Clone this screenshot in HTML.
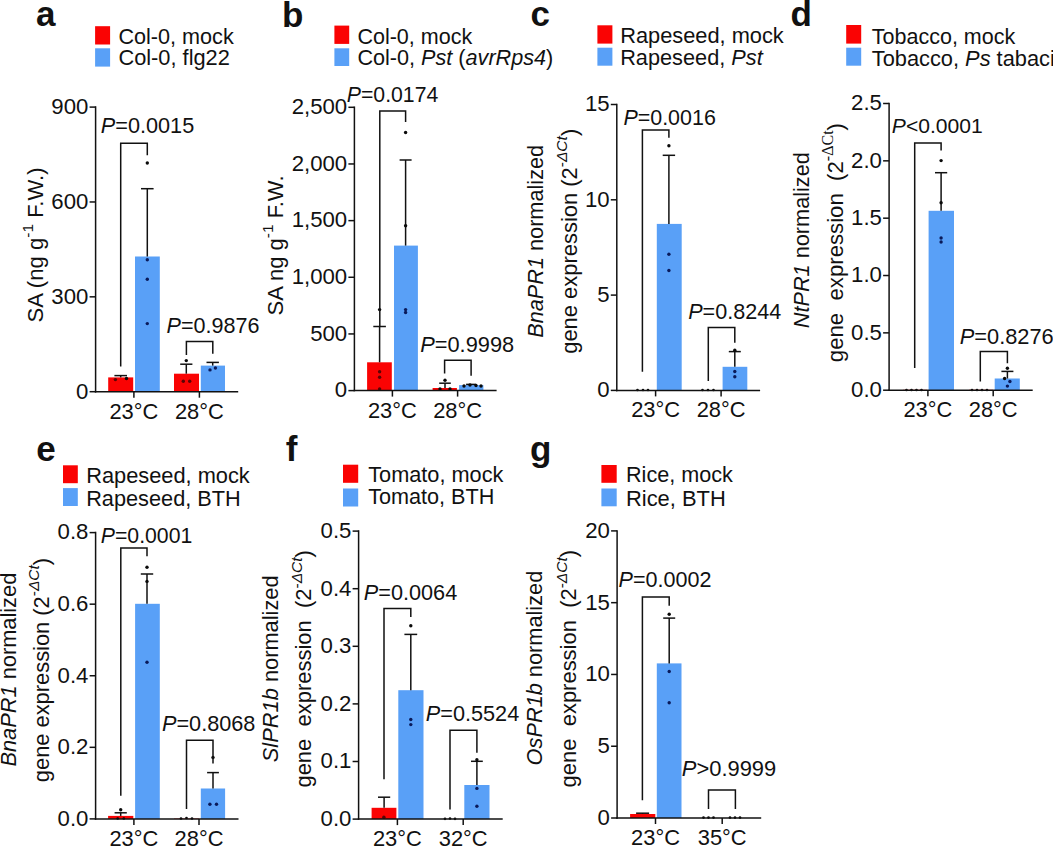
<!DOCTYPE html>
<html><head><meta charset="utf-8"><style>
html,body{margin:0;padding:0;background:#fff;}
body{width:1053px;height:848px;overflow:hidden;}
svg{display:block;font-family:"Liberation Sans",sans-serif;fill:#111;}
text{white-space:pre;}
</style></head><body>
<svg width="1053" height="848" viewBox="0 0 1053 848">
<rect width="1053" height="848" fill="#fff"/>
<rect x="95.10" y="26.20" width="15.00" height="18.30" fill="#fa0303"/>
<rect x="95.10" y="48.30" width="15.00" height="18.30" fill="#59a0f7"/>
<rect x="108.20" y="377.40" width="25.00" height="14.30" fill="#fa0303"/>
<rect x="135.00" y="256.50" width="24.80" height="135.20" fill="#59a0f7"/>
<rect x="174.00" y="373.70" width="25.00" height="18.00" fill="#fa0303"/>
<rect x="200.80" y="365.60" width="24.20" height="26.10" fill="#59a0f7"/>
<line x1="147.30" y1="256.50" x2="147.30" y2="188.70" stroke="#111" stroke-width="1.5"/>
<line x1="141.00" y1="188.70" x2="153.60" y2="188.70" stroke="#111" stroke-width="1.5"/>
<line x1="120.70" y1="377.40" x2="120.70" y2="375.60" stroke="#111" stroke-width="1.5"/>
<line x1="114.40" y1="375.60" x2="127.00" y2="375.60" stroke="#111" stroke-width="1.5"/>
<line x1="186.30" y1="373.70" x2="186.30" y2="364.20" stroke="#111" stroke-width="1.5"/>
<line x1="180.20" y1="364.20" x2="192.40" y2="364.20" stroke="#111" stroke-width="1.5"/>
<line x1="212.70" y1="365.60" x2="212.70" y2="362.40" stroke="#111" stroke-width="1.5"/>
<line x1="206.50" y1="362.40" x2="218.90" y2="362.40" stroke="#111" stroke-width="1.5"/>
<circle cx="147.30" cy="163.00" r="1.7" fill="#0a0a0a"/>
<circle cx="147.30" cy="259.70" r="1.7" fill="#0a1a5a"/>
<circle cx="147.30" cy="279.20" r="1.7" fill="#0a1a5a"/>
<circle cx="147.30" cy="323.60" r="1.7" fill="#0a1a5a"/>
<circle cx="115.40" cy="379.60" r="1.7" fill="#5a0505"/>
<circle cx="126.50" cy="378.50" r="1.7" fill="#0a0a0a"/>
<circle cx="186.30" cy="360.60" r="1.7" fill="#0a0a0a"/>
<circle cx="183.30" cy="381.30" r="1.7" fill="#5a0505"/>
<circle cx="189.70" cy="381.30" r="1.7" fill="#5a0505"/>
<circle cx="210.00" cy="369.90" r="1.7" fill="#0a1a5a"/>
<circle cx="215.40" cy="368.00" r="1.7" fill="#0a1a5a"/>
<line x1="95.60" y1="106.35" x2="95.60" y2="392.45" stroke="#111" stroke-width="1.5"/>
<line x1="94.85" y1="391.70" x2="238.20" y2="391.70" stroke="#111" stroke-width="1.5"/>
<line x1="89.60" y1="107.10" x2="95.60" y2="107.10" stroke="#111" stroke-width="1.5"/>
<text x="88.40" y="113.95" font-size="22.20" text-anchor="end">900</text>
<line x1="89.60" y1="201.97" x2="95.60" y2="201.97" stroke="#111" stroke-width="1.5"/>
<text x="88.40" y="208.82" font-size="22.20" text-anchor="end">600</text>
<line x1="89.60" y1="296.83" x2="95.60" y2="296.83" stroke="#111" stroke-width="1.5"/>
<text x="88.40" y="303.68" font-size="22.20" text-anchor="end">300</text>
<line x1="89.60" y1="391.70" x2="95.60" y2="391.70" stroke="#111" stroke-width="1.5"/>
<text x="88.40" y="398.55" font-size="22.20" text-anchor="end">0</text>
<line x1="133.90" y1="391.70" x2="133.90" y2="397.70" stroke="#111" stroke-width="1.5"/>
<text x="133.90" y="418.70" font-size="21.90" text-anchor="middle">23°C</text>
<line x1="199.40" y1="391.70" x2="199.40" y2="397.70" stroke="#111" stroke-width="1.5"/>
<text x="199.40" y="418.70" font-size="21.90" text-anchor="middle">28°C</text>
<polyline points="120.70,366.60 120.70,143.20 147.30,143.20 147.30,155.20" fill="none" stroke="#111" stroke-width="1.5"/>
<polyline points="186.40,354.90 186.40,341.40 212.80,341.40 212.80,353.80" fill="none" stroke="#111" stroke-width="1.5"/>
<rect x="334.40" y="25.60" width="14.80" height="18.30" fill="#fa0303"/>
<rect x="334.40" y="48.30" width="14.80" height="17.70" fill="#59a0f7"/>
<rect x="367.10" y="362.30" width="24.70" height="28.30" fill="#fa0303"/>
<rect x="394.00" y="245.60" width="23.90" height="145.00" fill="#59a0f7"/>
<rect x="432.60" y="388.00" width="24.30" height="2.60" fill="#fa0303"/>
<rect x="459.10" y="385.10" width="24.30" height="5.50" fill="#59a0f7"/>
<line x1="379.60" y1="362.30" x2="379.60" y2="326.50" stroke="#111" stroke-width="1.5"/>
<line x1="373.30" y1="326.50" x2="385.90" y2="326.50" stroke="#111" stroke-width="1.5"/>
<line x1="405.60" y1="245.60" x2="405.60" y2="160.00" stroke="#111" stroke-width="1.5"/>
<line x1="399.60" y1="160.00" x2="411.60" y2="160.00" stroke="#111" stroke-width="1.5"/>
<line x1="445.00" y1="388.00" x2="445.00" y2="383.20" stroke="#111" stroke-width="1.5"/>
<line x1="439.20" y1="383.20" x2="450.80" y2="383.20" stroke="#111" stroke-width="1.5"/>
<line x1="471.10" y1="385.10" x2="471.10" y2="384.40" stroke="#111" stroke-width="1.5"/>
<line x1="466.10" y1="384.40" x2="476.10" y2="384.40" stroke="#111" stroke-width="1.5"/>
<circle cx="379.60" cy="309.60" r="1.7" fill="#0a0a0a"/>
<circle cx="379.60" cy="371.80" r="1.7" fill="#5a0505"/>
<circle cx="379.60" cy="377.30" r="1.7" fill="#5a0505"/>
<circle cx="379.60" cy="389.00" r="1.7" fill="#5a0505"/>
<circle cx="405.60" cy="132.50" r="1.7" fill="#0a0a0a"/>
<circle cx="405.60" cy="225.80" r="1.7" fill="#0a0a0a"/>
<circle cx="405.60" cy="309.60" r="1.7" fill="#0a1a5a"/>
<circle cx="405.60" cy="312.50" r="1.7" fill="#0a1a5a"/>
<circle cx="445.00" cy="380.20" r="1.7" fill="#0a0a0a"/>
<circle cx="440.00" cy="389.00" r="1.7" fill="#0a0a0a"/>
<circle cx="450.00" cy="389.00" r="1.7" fill="#0a0a0a"/>
<circle cx="464.00" cy="386.00" r="1.7" fill="#0a0a0a"/>
<circle cx="470.00" cy="385.00" r="1.7" fill="#0a0a0a"/>
<circle cx="476.00" cy="385.50" r="1.7" fill="#0a0a0a"/>
<circle cx="481.00" cy="386.00" r="1.7" fill="#0a0a0a"/>
<line x1="354.40" y1="106.55" x2="354.40" y2="391.35" stroke="#111" stroke-width="1.5"/>
<line x1="353.65" y1="390.60" x2="496.60" y2="390.60" stroke="#111" stroke-width="1.5"/>
<line x1="348.40" y1="107.30" x2="354.40" y2="107.30" stroke="#111" stroke-width="1.5"/>
<text x="347.20" y="114.15" font-size="22.20" text-anchor="end">2,500</text>
<line x1="348.40" y1="163.96" x2="354.40" y2="163.96" stroke="#111" stroke-width="1.5"/>
<text x="347.20" y="170.81" font-size="22.20" text-anchor="end">2,000</text>
<line x1="348.40" y1="220.62" x2="354.40" y2="220.62" stroke="#111" stroke-width="1.5"/>
<text x="347.20" y="227.47" font-size="22.20" text-anchor="end">1,500</text>
<line x1="348.40" y1="277.28" x2="354.40" y2="277.28" stroke="#111" stroke-width="1.5"/>
<text x="347.20" y="284.13" font-size="22.20" text-anchor="end">1,000</text>
<line x1="348.40" y1="333.94" x2="354.40" y2="333.94" stroke="#111" stroke-width="1.5"/>
<text x="347.20" y="340.79" font-size="22.20" text-anchor="end">500</text>
<line x1="348.40" y1="390.60" x2="354.40" y2="390.60" stroke="#111" stroke-width="1.5"/>
<text x="347.20" y="397.45" font-size="22.20" text-anchor="end">0</text>
<line x1="392.40" y1="390.60" x2="392.40" y2="396.60" stroke="#111" stroke-width="1.5"/>
<text x="392.40" y="417.60" font-size="21.90" text-anchor="middle">23°C</text>
<line x1="457.60" y1="390.60" x2="457.60" y2="396.60" stroke="#111" stroke-width="1.5"/>
<text x="457.60" y="417.60" font-size="21.90" text-anchor="middle">28°C</text>
<polyline points="379.80,326.50 379.80,111.00 405.60,111.00 405.60,122.10" fill="none" stroke="#111" stroke-width="1.5"/>
<polyline points="444.60,373.60 444.60,360.30 471.10,360.30 471.10,375.80" fill="none" stroke="#111" stroke-width="1.5"/>
<rect x="597.40" y="25.30" width="15.00" height="18.30" fill="#fa0303"/>
<rect x="597.40" y="47.70" width="15.00" height="18.00" fill="#59a0f7"/>
<rect x="631.00" y="390.00" width="24.00" height="0.40" fill="#fa0303"/>
<rect x="656.80" y="223.90" width="24.90" height="166.50" fill="#59a0f7"/>
<rect x="697.00" y="390.00" width="24.00" height="0.40" fill="#fa0303"/>
<rect x="722.60" y="366.80" width="24.70" height="23.60" fill="#59a0f7"/>
<line x1="668.90" y1="223.90" x2="668.90" y2="155.30" stroke="#111" stroke-width="1.5"/>
<line x1="662.70" y1="155.30" x2="675.10" y2="155.30" stroke="#111" stroke-width="1.5"/>
<line x1="734.80" y1="366.80" x2="734.80" y2="351.60" stroke="#111" stroke-width="1.5"/>
<line x1="728.80" y1="351.60" x2="740.80" y2="351.60" stroke="#111" stroke-width="1.5"/>
<circle cx="668.90" cy="145.80" r="1.7" fill="#0a0a0a"/>
<circle cx="668.90" cy="254.20" r="1.7" fill="#0a1a5a"/>
<circle cx="668.90" cy="270.50" r="1.7" fill="#0a1a5a"/>
<circle cx="734.80" cy="350.20" r="1.7" fill="#0a0a0a"/>
<circle cx="734.80" cy="371.50" r="1.7" fill="#0a1a5a"/>
<circle cx="734.80" cy="376.70" r="1.7" fill="#0a1a5a"/>
<circle cx="637.50" cy="390.00" r="1.35" fill="#0a0a0a"/>
<circle cx="643.00" cy="390.00" r="1.35" fill="#0a0a0a"/>
<circle cx="648.00" cy="390.00" r="1.35" fill="#0a0a0a"/>
<circle cx="702.50" cy="390.00" r="1.35" fill="#0a0a0a"/>
<circle cx="708.00" cy="390.00" r="1.35" fill="#0a0a0a"/>
<circle cx="713.50" cy="390.00" r="1.35" fill="#0a0a0a"/>
<line x1="616.80" y1="103.75" x2="616.80" y2="391.15" stroke="#111" stroke-width="1.5"/>
<line x1="616.05" y1="390.40" x2="760.10" y2="390.40" stroke="#111" stroke-width="1.5"/>
<line x1="610.80" y1="104.50" x2="616.80" y2="104.50" stroke="#111" stroke-width="1.5"/>
<text x="609.60" y="111.35" font-size="22.20" text-anchor="end">15</text>
<line x1="610.80" y1="199.80" x2="616.80" y2="199.80" stroke="#111" stroke-width="1.5"/>
<text x="609.60" y="206.65" font-size="22.20" text-anchor="end">10</text>
<line x1="610.80" y1="295.10" x2="616.80" y2="295.10" stroke="#111" stroke-width="1.5"/>
<text x="609.60" y="301.95" font-size="22.20" text-anchor="end">5</text>
<line x1="610.80" y1="390.40" x2="616.80" y2="390.40" stroke="#111" stroke-width="1.5"/>
<text x="609.60" y="397.25" font-size="22.20" text-anchor="end">0</text>
<line x1="655.60" y1="390.40" x2="655.60" y2="396.40" stroke="#111" stroke-width="1.5"/>
<text x="655.60" y="417.40" font-size="21.90" text-anchor="middle">23°C</text>
<line x1="721.10" y1="390.40" x2="721.10" y2="396.40" stroke="#111" stroke-width="1.5"/>
<text x="721.10" y="417.40" font-size="21.90" text-anchor="middle">28°C</text>
<polyline points="642.40,371.80 642.40,130.10 668.90,130.10 668.90,137.70" fill="none" stroke="#111" stroke-width="1.5"/>
<polyline points="708.30,381.10 708.30,327.40 734.80,327.40 734.80,342.80" fill="none" stroke="#111" stroke-width="1.5"/>
<rect x="846.20" y="25.00" width="15.00" height="18.60" fill="#fa0303"/>
<rect x="846.20" y="47.70" width="15.00" height="18.00" fill="#59a0f7"/>
<rect x="903.00" y="389.80" width="24.00" height="0.40" fill="#fa0303"/>
<rect x="928.60" y="210.80" width="25.40" height="179.40" fill="#59a0f7"/>
<rect x="969.00" y="389.80" width="24.00" height="0.40" fill="#fa0303"/>
<rect x="994.70" y="378.50" width="25.10" height="11.70" fill="#59a0f7"/>
<line x1="941.10" y1="210.80" x2="941.10" y2="172.70" stroke="#111" stroke-width="1.5"/>
<line x1="935.00" y1="172.70" x2="947.20" y2="172.70" stroke="#111" stroke-width="1.5"/>
<line x1="1007.40" y1="378.50" x2="1007.40" y2="371.40" stroke="#111" stroke-width="1.5"/>
<line x1="1001.40" y1="371.40" x2="1013.40" y2="371.40" stroke="#111" stroke-width="1.5"/>
<circle cx="941.10" cy="160.60" r="1.7" fill="#0a0a0a"/>
<circle cx="941.10" cy="202.70" r="1.7" fill="#0a0a0a"/>
<circle cx="941.10" cy="238.00" r="1.7" fill="#0a1a5a"/>
<circle cx="941.10" cy="242.00" r="1.7" fill="#0a1a5a"/>
<circle cx="1007.40" cy="368.30" r="1.7" fill="#0a0a0a"/>
<circle cx="1004.60" cy="378.50" r="1.7" fill="#0a0a0a"/>
<circle cx="1009.90" cy="381.50" r="1.7" fill="#0a1a5a"/>
<circle cx="1007.40" cy="386.10" r="1.7" fill="#0a1a5a"/>
<circle cx="906.50" cy="390.00" r="1.35" fill="#0a0a0a"/>
<circle cx="911.50" cy="390.00" r="1.35" fill="#0a0a0a"/>
<circle cx="916.50" cy="390.00" r="1.35" fill="#0a0a0a"/>
<circle cx="921.50" cy="390.00" r="1.35" fill="#0a0a0a"/>
<circle cx="972.00" cy="390.00" r="1.35" fill="#0a0a0a"/>
<circle cx="977.00" cy="390.00" r="1.35" fill="#0a0a0a"/>
<circle cx="982.00" cy="390.00" r="1.35" fill="#0a0a0a"/>
<circle cx="987.00" cy="390.00" r="1.35" fill="#0a0a0a"/>
<line x1="889.10" y1="102.75" x2="889.10" y2="390.95" stroke="#111" stroke-width="1.5"/>
<line x1="888.35" y1="390.20" x2="1032.70" y2="390.20" stroke="#111" stroke-width="1.5"/>
<line x1="883.10" y1="103.50" x2="889.10" y2="103.50" stroke="#111" stroke-width="1.5"/>
<text x="881.90" y="110.35" font-size="22.20" text-anchor="end">2.5</text>
<line x1="883.10" y1="160.84" x2="889.10" y2="160.84" stroke="#111" stroke-width="1.5"/>
<text x="881.90" y="167.69" font-size="22.20" text-anchor="end">2.0</text>
<line x1="883.10" y1="218.18" x2="889.10" y2="218.18" stroke="#111" stroke-width="1.5"/>
<text x="881.90" y="225.03" font-size="22.20" text-anchor="end">1.5</text>
<line x1="883.10" y1="275.52" x2="889.10" y2="275.52" stroke="#111" stroke-width="1.5"/>
<text x="881.90" y="282.37" font-size="22.20" text-anchor="end">1.0</text>
<line x1="883.10" y1="332.86" x2="889.10" y2="332.86" stroke="#111" stroke-width="1.5"/>
<text x="881.90" y="339.71" font-size="22.20" text-anchor="end">0.5</text>
<line x1="883.10" y1="390.20" x2="889.10" y2="390.20" stroke="#111" stroke-width="1.5"/>
<text x="881.90" y="397.05" font-size="22.20" text-anchor="end">0.0</text>
<line x1="927.90" y1="390.20" x2="927.90" y2="396.20" stroke="#111" stroke-width="1.5"/>
<text x="927.90" y="417.20" font-size="21.90" text-anchor="middle">23°C</text>
<line x1="993.20" y1="390.20" x2="993.20" y2="396.20" stroke="#111" stroke-width="1.5"/>
<text x="993.20" y="417.20" font-size="21.90" text-anchor="middle">28°C</text>
<polyline points="914.70,367.90 914.70,143.10 941.10,143.10 941.10,150.60" fill="none" stroke="#111" stroke-width="1.5"/>
<polyline points="980.30,381.50 980.30,351.60 1007.40,351.60 1007.40,363.30" fill="none" stroke="#111" stroke-width="1.5"/>
<rect x="63.00" y="465.30" width="14.80" height="17.90" fill="#fa0303"/>
<rect x="63.00" y="488.10" width="14.80" height="17.90" fill="#59a0f7"/>
<rect x="108.10" y="815.90" width="25.20" height="3.00" fill="#fa0303"/>
<rect x="135.10" y="603.80" width="24.70" height="215.10" fill="#59a0f7"/>
<rect x="174.00" y="818.50" width="25.00" height="0.40" fill="#fa0303"/>
<rect x="200.80" y="788.50" width="24.30" height="30.40" fill="#59a0f7"/>
<line x1="147.00" y1="603.80" x2="147.00" y2="574.00" stroke="#111" stroke-width="1.5"/>
<line x1="140.80" y1="574.00" x2="153.20" y2="574.00" stroke="#111" stroke-width="1.5"/>
<line x1="120.70" y1="815.90" x2="120.70" y2="812.80" stroke="#111" stroke-width="1.5"/>
<line x1="114.60" y1="812.80" x2="126.80" y2="812.80" stroke="#111" stroke-width="1.5"/>
<line x1="213.00" y1="788.50" x2="213.00" y2="772.60" stroke="#111" stroke-width="1.5"/>
<line x1="207.10" y1="772.60" x2="218.90" y2="772.60" stroke="#111" stroke-width="1.5"/>
<circle cx="147.00" cy="567.30" r="1.7" fill="#0a0a0a"/>
<circle cx="147.00" cy="581.40" r="1.7" fill="#0a0a0a"/>
<circle cx="147.00" cy="662.20" r="1.7" fill="#0a1a5a"/>
<circle cx="213.00" cy="757.40" r="1.7" fill="#0a0a0a"/>
<circle cx="209.90" cy="804.20" r="1.7" fill="#0a1a5a"/>
<circle cx="216.50" cy="804.20" r="1.7" fill="#0a1a5a"/>
<circle cx="120.70" cy="809.80" r="1.7" fill="#0a0a0a"/>
<circle cx="117.70" cy="818.50" r="1.35" fill="#0a0a0a"/>
<circle cx="123.80" cy="818.50" r="1.35" fill="#0a0a0a"/>
<circle cx="181.00" cy="818.50" r="1.35" fill="#0a0a0a"/>
<circle cx="186.50" cy="818.00" r="1.35" fill="#0a0a0a"/>
<circle cx="192.00" cy="818.50" r="1.35" fill="#0a0a0a"/>
<line x1="95.60" y1="531.85" x2="95.60" y2="819.65" stroke="#111" stroke-width="1.5"/>
<line x1="94.85" y1="818.90" x2="238.50" y2="818.90" stroke="#111" stroke-width="1.5"/>
<line x1="89.60" y1="532.60" x2="95.60" y2="532.60" stroke="#111" stroke-width="1.5"/>
<text x="88.40" y="539.45" font-size="22.20" text-anchor="end">0.8</text>
<line x1="89.60" y1="604.17" x2="95.60" y2="604.17" stroke="#111" stroke-width="1.5"/>
<text x="88.40" y="611.02" font-size="22.20" text-anchor="end">0.6</text>
<line x1="89.60" y1="675.75" x2="95.60" y2="675.75" stroke="#111" stroke-width="1.5"/>
<text x="88.40" y="682.60" font-size="22.20" text-anchor="end">0.4</text>
<line x1="89.60" y1="747.33" x2="95.60" y2="747.33" stroke="#111" stroke-width="1.5"/>
<text x="88.40" y="754.18" font-size="22.20" text-anchor="end">0.2</text>
<line x1="89.60" y1="818.90" x2="95.60" y2="818.90" stroke="#111" stroke-width="1.5"/>
<text x="88.40" y="825.75" font-size="22.20" text-anchor="end">0.0</text>
<line x1="133.90" y1="818.90" x2="133.90" y2="824.90" stroke="#111" stroke-width="1.5"/>
<text x="133.90" y="845.90" font-size="21.90" text-anchor="middle">23°C</text>
<line x1="199.00" y1="818.90" x2="199.00" y2="824.90" stroke="#111" stroke-width="1.5"/>
<text x="199.00" y="845.90" font-size="21.90" text-anchor="middle">28°C</text>
<polyline points="120.80,795.70 120.80,548.10 147.00,548.10 147.00,556.30" fill="none" stroke="#111" stroke-width="1.5"/>
<polyline points="186.50,809.00 186.50,740.30 213.00,740.30 213.00,763.40" fill="none" stroke="#111" stroke-width="1.5"/>
<rect x="343.00" y="464.70" width="15.20" height="18.10" fill="#fa0303"/>
<rect x="343.00" y="488.50" width="15.20" height="18.00" fill="#59a0f7"/>
<rect x="371.60" y="807.80" width="24.80" height="11.30" fill="#fa0303"/>
<rect x="398.30" y="690.20" width="25.20" height="128.90" fill="#59a0f7"/>
<rect x="464.30" y="785.00" width="25.20" height="34.10" fill="#59a0f7"/>
<line x1="410.80" y1="690.20" x2="410.80" y2="634.40" stroke="#111" stroke-width="1.5"/>
<line x1="404.40" y1="634.40" x2="417.20" y2="634.40" stroke="#111" stroke-width="1.5"/>
<line x1="384.10" y1="807.80" x2="384.10" y2="797.20" stroke="#111" stroke-width="1.5"/>
<line x1="378.00" y1="797.20" x2="390.20" y2="797.20" stroke="#111" stroke-width="1.5"/>
<line x1="476.90" y1="785.00" x2="476.90" y2="761.30" stroke="#111" stroke-width="1.5"/>
<line x1="471.00" y1="761.30" x2="482.80" y2="761.30" stroke="#111" stroke-width="1.5"/>
<circle cx="410.80" cy="625.70" r="1.7" fill="#0a0a0a"/>
<circle cx="410.80" cy="719.50" r="1.7" fill="#0a1a5a"/>
<circle cx="410.80" cy="724.60" r="1.7" fill="#0a1a5a"/>
<circle cx="476.90" cy="759.80" r="1.7" fill="#0a0a0a"/>
<circle cx="476.90" cy="788.40" r="1.7" fill="#0a1a5a"/>
<circle cx="476.90" cy="806.30" r="1.7" fill="#0a1a5a"/>
<circle cx="383.90" cy="817.30" r="1.7" fill="#5a0505"/>
<circle cx="445.00" cy="818.80" r="1.35" fill="#0a0a0a"/>
<circle cx="450.00" cy="818.50" r="1.35" fill="#0a0a0a"/>
<circle cx="455.00" cy="818.80" r="1.35" fill="#0a0a0a"/>
<line x1="358.60" y1="530.35" x2="358.60" y2="819.85" stroke="#111" stroke-width="1.5"/>
<line x1="357.85" y1="819.10" x2="502.70" y2="819.10" stroke="#111" stroke-width="1.5"/>
<line x1="352.60" y1="531.10" x2="358.60" y2="531.10" stroke="#111" stroke-width="1.5"/>
<text x="351.40" y="537.95" font-size="22.20" text-anchor="end">0.5</text>
<line x1="352.60" y1="588.70" x2="358.60" y2="588.70" stroke="#111" stroke-width="1.5"/>
<text x="351.40" y="595.55" font-size="22.20" text-anchor="end">0.4</text>
<line x1="352.60" y1="646.30" x2="358.60" y2="646.30" stroke="#111" stroke-width="1.5"/>
<text x="351.40" y="653.15" font-size="22.20" text-anchor="end">0.3</text>
<line x1="352.60" y1="703.90" x2="358.60" y2="703.90" stroke="#111" stroke-width="1.5"/>
<text x="351.40" y="710.75" font-size="22.20" text-anchor="end">0.2</text>
<line x1="352.60" y1="761.50" x2="358.60" y2="761.50" stroke="#111" stroke-width="1.5"/>
<text x="351.40" y="768.35" font-size="22.20" text-anchor="end">0.1</text>
<line x1="352.60" y1="819.10" x2="358.60" y2="819.10" stroke="#111" stroke-width="1.5"/>
<text x="351.40" y="825.95" font-size="22.20" text-anchor="end">0.0</text>
<line x1="397.40" y1="819.10" x2="397.40" y2="825.10" stroke="#111" stroke-width="1.5"/>
<text x="397.40" y="846.10" font-size="21.90" text-anchor="middle">23°C</text>
<line x1="463.20" y1="819.10" x2="463.20" y2="825.10" stroke="#111" stroke-width="1.5"/>
<text x="463.20" y="846.10" font-size="21.90" text-anchor="middle">32°C</text>
<polyline points="384.00,779.30 384.00,608.50 410.80,608.50 410.80,617.10" fill="none" stroke="#111" stroke-width="1.5"/>
<polyline points="450.00,809.40 450.00,730.30 476.90,730.30 476.90,752.70" fill="none" stroke="#111" stroke-width="1.5"/>
<rect x="601.40" y="465.00" width="15.30" height="17.80" fill="#fa0303"/>
<rect x="601.40" y="488.50" width="15.30" height="17.80" fill="#59a0f7"/>
<rect x="630.10" y="814.00" width="25.20" height="4.00" fill="#fa0303"/>
<rect x="656.80" y="663.40" width="24.70" height="154.60" fill="#59a0f7"/>
<line x1="669.20" y1="663.40" x2="669.20" y2="618.10" stroke="#111" stroke-width="1.5"/>
<line x1="663.20" y1="618.10" x2="675.20" y2="618.10" stroke="#111" stroke-width="1.5"/>
<line x1="642.60" y1="814.00" x2="642.60" y2="813.20" stroke="#111" stroke-width="1.5"/>
<line x1="636.10" y1="813.20" x2="649.10" y2="813.20" stroke="#111" stroke-width="1.5"/>
<circle cx="669.20" cy="614.30" r="1.7" fill="#0a0a0a"/>
<circle cx="669.20" cy="671.50" r="1.7" fill="#0a1a5a"/>
<circle cx="669.20" cy="702.80" r="1.7" fill="#0a1a5a"/>
<circle cx="703.50" cy="817.60" r="1.35" fill="#0a0a0a"/>
<circle cx="708.50" cy="817.60" r="1.35" fill="#0a0a0a"/>
<circle cx="713.50" cy="817.60" r="1.35" fill="#0a0a0a"/>
<circle cx="730.00" cy="817.60" r="1.35" fill="#0a0a0a"/>
<circle cx="735.00" cy="817.60" r="1.35" fill="#0a0a0a"/>
<circle cx="740.00" cy="817.60" r="1.35" fill="#0a0a0a"/>
<line x1="617.10" y1="530.15" x2="617.10" y2="818.75" stroke="#111" stroke-width="1.5"/>
<line x1="616.35" y1="818.00" x2="761.20" y2="818.00" stroke="#111" stroke-width="1.5"/>
<line x1="611.10" y1="530.90" x2="617.10" y2="530.90" stroke="#111" stroke-width="1.5"/>
<text x="609.90" y="537.75" font-size="22.20" text-anchor="end">20</text>
<line x1="611.10" y1="602.67" x2="617.10" y2="602.67" stroke="#111" stroke-width="1.5"/>
<text x="609.90" y="609.52" font-size="22.20" text-anchor="end">15</text>
<line x1="611.10" y1="674.45" x2="617.10" y2="674.45" stroke="#111" stroke-width="1.5"/>
<text x="609.90" y="681.30" font-size="22.20" text-anchor="end">10</text>
<line x1="611.10" y1="746.23" x2="617.10" y2="746.23" stroke="#111" stroke-width="1.5"/>
<text x="609.90" y="753.08" font-size="22.20" text-anchor="end">5</text>
<line x1="611.10" y1="818.00" x2="617.10" y2="818.00" stroke="#111" stroke-width="1.5"/>
<text x="609.90" y="824.85" font-size="22.20" text-anchor="end">0</text>
<line x1="655.50" y1="818.00" x2="655.50" y2="824.00" stroke="#111" stroke-width="1.5"/>
<text x="655.50" y="845.00" font-size="21.90" text-anchor="middle">23°C</text>
<line x1="722.20" y1="818.00" x2="722.20" y2="824.00" stroke="#111" stroke-width="1.5"/>
<text x="722.20" y="845.00" font-size="21.90" text-anchor="middle">35°C</text>
<polyline points="642.40,800.30 642.40,597.00 669.20,597.00 669.20,605.80" fill="none" stroke="#111" stroke-width="1.5"/>
<polyline points="708.50,808.90 708.50,790.10 735.40,790.10 735.40,808.90" fill="none" stroke="#111" stroke-width="1.5"/>
<text id="La1" x="118.41" y="43.96" font-size="21.61" font-weight="normal">Col-0, mock</text>
<text id="La2" x="118.40" y="64.69" font-size="21.80" font-weight="normal">Col-0, flg22</text>
<text id="Lb1" x="357.41" y="44.08" font-size="21.52" font-weight="normal">Col-0, mock</text>
<text id="Lb2" x="357.41" y="64.98" font-size="21.63" font-weight="normal">Col-0, <tspan font-style="italic">Pst</tspan> (<tspan font-style="italic">avrRps4</tspan>)</text>
<text id="Lc1" x="620.20" y="43.30" font-size="21.80" font-weight="normal">Rapeseed, mock</text>
<text id="Lc2" x="620.20" y="65.04" font-size="21.72" font-weight="normal">Rapeseed, <tspan font-style="italic">Pst</tspan></text>
<text id="Ld1" x="871.80" y="43.87" font-size="21.50" font-weight="normal">Tobacco, mock</text>
<text id="Ld2" x="871.80" y="65.90" font-size="21.80" font-weight="normal">Tobacco, <tspan font-style="italic">Ps</tspan> tabaci</text>
<text id="Le1" x="86.19" y="483.29" font-size="21.80" font-weight="normal">Rapeseed, mock</text>
<text id="Le2" x="86.20" y="506.04" font-size="21.73" font-weight="normal">Rapeseed, BTH</text>
<text id="Lf1" x="368.20" y="481.84" font-size="21.72" font-weight="normal">Tomato, mock</text>
<text id="Lf2" x="368.20" y="503.98" font-size="21.63" font-weight="normal">Tomato, BTH</text>
<text id="Lg1" x="626.01" y="481.95" font-size="21.60" font-weight="normal">Rice, mock</text>
<text id="Lg2" x="625.99" y="506.17" font-size="21.91" font-weight="normal">Rice, BTH</text>
<text id="Pa1" x="100.80" y="133.42" font-size="21.68" font-weight="normal"><tspan font-style="italic">P</tspan>=0.0015</text>
<text id="Pa2" x="166.61" y="332.73" font-size="21.56" font-weight="normal"><tspan font-style="italic">P</tspan>=0.9876</text>
<text id="Pb1" x="346.82" y="102.11" font-size="21.22" font-weight="normal"><tspan font-style="italic">P</tspan>=0.0174</text>
<text id="Pb2" x="420.19" y="351.91" font-size="21.80" font-weight="normal"><tspan font-style="italic">P</tspan>=0.9998</text>
<text id="Pc1" x="623.41" y="124.85" font-size="21.45" font-weight="normal"><tspan font-style="italic">P</tspan>=0.0016</text>
<text id="Pc2" x="688.21" y="318.93" font-size="21.57" font-weight="normal"><tspan font-style="italic">P</tspan>=0.8244</text>
<text id="Pd1" x="891.80" y="133.04" font-size="21.10" font-weight="normal"><tspan font-style="italic">P</tspan>&lt;0.0001</text>
<text id="Pd2" x="959.80" y="343.50" font-size="21.80" font-weight="normal"><tspan font-style="italic">P</tspan>=0.8276</text>
<text id="Pe1" x="100.80" y="542.90" font-size="21.22" font-weight="normal"><tspan font-style="italic">P</tspan>=0.0001</text>
<text id="Pe2" x="162.01" y="730.62" font-size="21.68" font-weight="normal"><tspan font-style="italic">P</tspan>=0.8068</text>
<text id="Pf1" x="363.79" y="599.82" font-size="21.68" font-weight="normal"><tspan font-style="italic">P</tspan>=0.0064</text>
<text id="Pf2" x="425.79" y="720.81" font-size="21.68" font-weight="normal"><tspan font-style="italic">P</tspan>=0.5524</text>
<text id="Pg1" x="618.61" y="587.33" font-size="21.56" font-weight="normal"><tspan font-style="italic">P</tspan>=0.0002</text>
<text id="Pg2" x="681.79" y="775.98" font-size="21.92" font-weight="normal"><tspan font-style="italic">P</tspan>&gt;0.9999</text>
<text id="Xa" x="35.97" y="26.23" font-size="35.00" font-weight="bold">a</text>
<text id="Xb" x="281.94" y="27.27" font-size="35.00" font-weight="bold">b</text>
<text id="Xc" x="530.56" y="25.50" font-size="35.00" font-weight="bold">c</text>
<text id="Xd" x="790.44" y="26.41" font-size="35.00" font-weight="bold">d</text>
<text id="Xe" x="36.14" y="461.43" font-size="35.00" font-weight="bold">e</text>
<text id="Xf" x="285.79" y="460.91" font-size="35.00" font-weight="bold">f</text>
<text id="Xg" x="529.94" y="461.02" font-size="35.00" font-weight="bold">g</text>
<text id="Ta" transform="translate(42.54,322.60) rotate(-90)" font-size="22.13">SA (ng g<tspan font-size="15.5" dy="-9.5">-1</tspan><tspan dy="9.5"> F.W.)</tspan></text>
<text id="Tb" transform="translate(282.88,315.40) rotate(-90)" font-size="22.04">SA ng g<tspan font-size="15.5" dy="-9.5">-1</tspan><tspan dy="9.5"> F.W.</tspan></text>
<text id="Tc1" transform="translate(543.25,337.78) rotate(-90)" font-size="21.69"><tspan font-style="italic">BnaPR1</tspan> normalized</text>
<text id="Tc2" transform="translate(576.85,353.79) rotate(-90)" font-size="21.95">gene expression (2<tspan font-size="15.5" dy="-9.5">-<tspan font-style="italic">ΔCt</tspan></tspan><tspan dy="9.5">)</tspan></text>
<text id="Td1" transform="translate(809.45,328.19) rotate(-90)" font-size="21.70"><tspan font-style="italic">NtPR1</tspan> normalized</text>
<text id="Td2" transform="translate(842.79,362.20) rotate(-90)" font-size="22.20">gene&#160; expression&#160; (2<tspan font-size="16" dy="-9.5" font-family="Liberation Serif">-ΔCt</tspan><tspan dy="9.5">)</tspan></text>
<text id="Te1" transform="translate(16.12,766.59) rotate(-90)" font-size="21.80"><tspan font-style="italic">BnaPR1</tspan> normalized</text>
<text id="Te2" transform="translate(48.60,782.18) rotate(-90)" font-size="21.86">gene expression (2<tspan font-size="15.5" dy="-9.5">-<tspan font-style="italic">ΔCt</tspan></tspan><tspan dy="9.5">)</tspan></text>
<text id="Tf1" transform="translate(277.74,762.19) rotate(-90)" font-size="21.84"><tspan font-style="italic">SlPR1b</tspan> normalized</text>
<text id="Tf2" transform="translate(311.26,787.59) rotate(-90)" font-size="21.97">gene&#160; expression&#160; (2<tspan font-size="15.5" dy="-9.5">-<tspan font-style="italic">ΔCt</tspan></tspan><tspan dy="9.5">)</tspan></text>
<text id="Tg1" transform="translate(542.48,765.38) rotate(-90)" font-size="21.75"><tspan font-style="italic">OsPR1b</tspan> normalized</text>
<text id="Tg2" transform="translate(576.26,787.40) rotate(-90)" font-size="21.97">gene&#160; expression&#160; (2<tspan font-size="15.5" dy="-9.5">-<tspan font-style="italic">ΔCt</tspan></tspan><tspan dy="9.5">)</tspan></text>
</svg>
</body></html>
